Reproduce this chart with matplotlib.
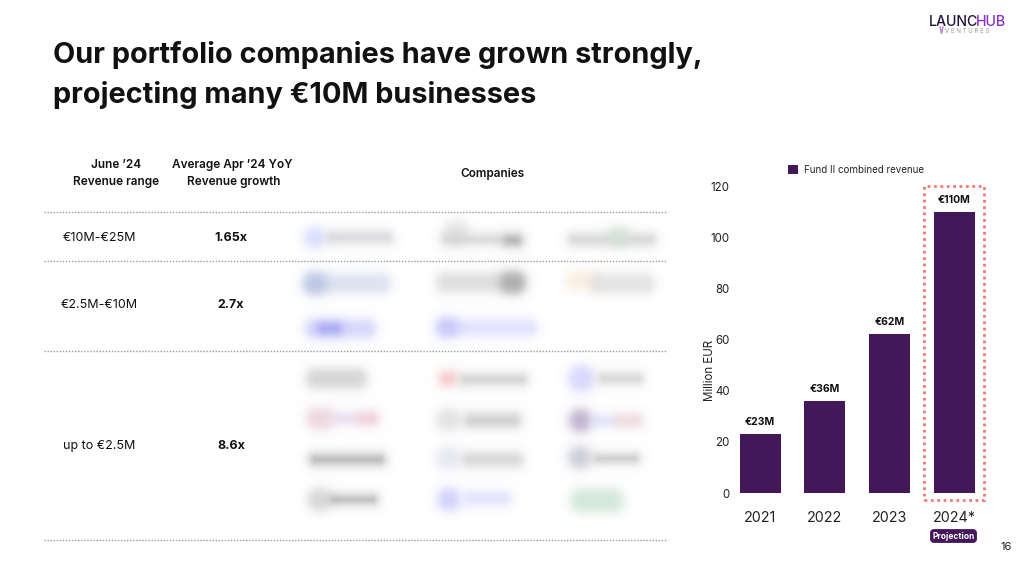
import numpy as np
import matplotlib
matplotlib.use("Agg")
import matplotlib.pyplot as plt
from matplotlib.patches import Rectangle, FancyBboxPatch

plt.rcParams['font.family'] = ['Inter', 'DejaVu Sans']

# ---------------- data ----------------
years = ["2021", "2022", "2023", "2024*"]
revenue = [23, 36, 62, 110]
value_labels = ["€23M", "€36M", "€62M", "€110M"]
yticks = [0, 20, 40, 60, 80, 100, 120]
legend_label = "Fund II combined revenue"

ranges = ["€10M-€25M", "€2.5M-€10M", "up to €2.5M"]
growth = ["1.65x", "2.7x", "8.6x"]

title_lines = ["Our portfolio companies have grown strongly,",
               "projecting many €10M businesses"]

BAR = "#43185b"
DARK = "#111111"

fig = plt.figure(figsize=(10.24, 5.63), dpi=100)
fig.patch.set_facecolor("white")

slide = fig.add_axes([0, 0, 1, 1])
slide.set_xlim(0, 1024)
slide.set_ylim(563, 0)
slide.axis("off")

# ---------- blurred company logos (decorative placeholders) ----------
H, W = 563, 1024
img = np.ones((H, W, 3))
yy, xx = np.mgrid[0:H, 0:W]


def hexrgb(h):
    h = h.lstrip('#')
    return np.array([int(h[i:i + 2], 16) / 255 for i in (0, 2, 4)])


def blob(x0, x1, y, h, color, a=0.9, soft=3.2):
    global img
    r = h / 2
    px = np.clip(xx, x0 + r, x1 - r) if x1 - x0 > h else (x0 + x1) / 2
    d = np.hypot(xx - px, yy - y)
    al = a / (1 + np.exp(np.clip((d - r) / soft, -50, 50)))
    al[al < 0.004] = 0
    al = al[..., None]
    img = img * (1 - al) + hexrgb(color) * al


logos = [
    # row 1
    (304, 324, 237, 20, "#d4dafc"), (326, 392, 237, 12, "#d2d2d6"),
    (446, 466, 232, 24, "#e2e2e2"), (442, 520, 239, 10, "#d0d0d0"), (505, 520, 240, 8, "#a9a9a9"),
    (568, 655, 239, 12, "#d0d0d0"), (608, 628, 236, 18, "#d2e2d8"),
    # row 2a
    (304, 390, 283, 20, "#d8deee"), (304, 326, 283, 20, "#b8c4e2"),
    (436, 524, 282, 20, "#dadada"), (500, 524, 282, 20, "#a8a8a8"),
    (566, 600, 280, 18, "#f8ecdc"), (590, 654, 283, 20, "#e0e0e0"),
    # row 2b
    (305, 375, 328, 18, "#d0d0fa"), (318, 340, 328, 10, "#9e9ef2"),
    (437, 536, 327, 16, "#dcdcfc"), (437, 458, 327, 18, "#c8c8fa"),
    # row 3
    (306, 366, 378, 20, "#d0d0d0"),
    (439, 456, 378, 14, "#f6c0c0"), (460, 526, 379, 10, "#c8c8c8"),
    (570, 592, 378, 26, "#d4d4fc"), (598, 642, 378, 10, "#cdcdcd"),
    (306, 334, 418, 22, "#ead4dc"), (334, 376, 418, 10, "#e2d6ee"), (358, 376, 418, 10, "#f6cfd4"),
    (436, 460, 419, 22, "#e0e0e0"), (464, 520, 420, 14, "#c8c8c8"),
    (569, 591, 420, 22, "#b9aac8"), (592, 640, 420, 10, "#d8dcf8"), (615, 640, 420, 10, "#f8dcd6"),
    (310, 384, 459, 10, "#a8a8a8"),
    (436, 460, 458, 22, "#e4e4f2"), (462, 522, 459, 14, "#d0d0d0"),
    (568, 590, 457, 22, "#c8c8d6"), (594, 638, 458, 8, "#bdbdbd"),
    (307, 330, 499, 22, "#d4d4d4"), (330, 376, 499, 8, "#a8a8a8"),
    (437, 460, 499, 22, "#cdcdfa"), (463, 510, 498, 14, "#dedefc"),
    (570, 623, 500, 24, "#cfe4d6"),
]
for lg in logos:
    blob(*lg)
img8 = np.clip(np.round(img * 255), 0, 255).astype(np.uint8)
slide.imshow(img8, extent=(0, W, H, 0), aspect="auto", zorder=0, interpolation="nearest")
slide.set_xlim(0, 1024)
slide.set_ylim(563, 0)

# ---------------- title ----------------
slide.text(53, 63, title_lines[0], fontsize=20.8, fontweight="bold", color=DARK, va="baseline")
slide.text(53, 103, title_lines[1], fontsize=20.8, fontweight="bold", color=DARK, va="baseline")

# ---------------- logo ----------------
renderer = fig.canvas.get_renderer()
t1 = slide.text(929, 26, "LAUNC", fontsize=10.2, fontweight="medium", color="#22153f", va="baseline")
bb = t1.get_window_extent(renderer)
slide.text(bb.x1 - 2.5, 26, "HUB", fontsize=10.2, fontweight="medium", color="#8b2fc9", va="baseline")
slide.text(945, 33, "V E N T U R E S", fontsize=4.4, color="#9a9a9a", va="baseline")
slide.plot([940, 941.5], [27, 33], color="#b07ad8", lw=1)
slide.plot([943, 941.5], [27, 33], color="#b07ad8", lw=1)

# ---------------- table ----------------
slide.text(116, 165, "June \u201924", fontsize=8.5, fontweight="semibold", ha="center", va="center", color=DARK)
slide.text(116, 182, "Revenue range", fontsize=8.5, fontweight="semibold", ha="center", va="center", color=DARK)
slide.text(232, 165, "Average Apr \u201924 YoY", fontsize=8.5, fontweight="semibold", ha="center", va="center", color=DARK)
slide.text(234, 182, "Revenue growth", fontsize=8.5, fontweight="semibold", ha="center", va="center", color=DARK)
slide.text(492, 174, "Companies", fontsize=8.5, fontweight="semibold", ha="center", va="center", color=DARK)

for yl in [212, 261, 351, 540]:
    slide.plot([44, 666], [yl, yl], color="#999999", lw=1.0, linestyle=(0, (1, 1.2)))

row_y = [238, 305, 446]
for ry, rg, gr in zip(row_y, ranges, growth):
    slide.text(99, ry, rg, fontsize=9, color=DARK, ha="center", va="center")
    slide.text(231, ry, gr, fontsize=9, fontweight="bold", color=DARK, ha="center", va="center")

# ---------------- bar chart ----------------
ax = fig.add_axes([727.7 / 1024, (563 - 493) / 563, 258.7 / 1024, 307 / 563])
x = np.arange(len(years))
ax.bar(x, revenue, width=0.635, color=BAR, zorder=2, label=legend_label)
ax.set_xlim(-0.5, 3.5)
ax.set_ylim(0, 120)
ax.set_yticks(yticks)
ax.set_xticks(x)
ax.set_xticklabels(years)
for s in ax.spines.values():
    s.set_visible(False)
ax.tick_params(axis="y", length=0, pad=-1.5, labelsize=8.3, labelcolor="#222222")
ax.tick_params(axis="x", length=0, pad=13, labelsize=10.3, labelcolor="#222222")
ax.set_facecolor("none")
for xi, v, lbl in zip(x, revenue, value_labels):
    ax.annotate(lbl, (xi, v), xytext=(0, 5), textcoords="offset points",
                ha="center", va="bottom", fontsize=7.5, fontweight="bold", color=DARK)
ax.set_ylabel("Million EUR", fontsize=8.3, color="#222222")
ax.yaxis.set_label_coords(-0.045, 0.40)

ax.add_patch(Rectangle((2.54, -2.7), 0.93, 122.8, fill=False, edgecolor="#f47878",
                       lw=2, linestyle=(0, (1, 1.3)), clip_on=False, zorder=3))

ax.legend(loc="center left", bbox_to_anchor=(0.215, 1.052), frameon=False,
          borderpad=0, handlelength=1.0, handleheight=1.0, handletextpad=0.6,
          fontsize=7, labelcolor="#222222")

# projection badge
slide.add_patch(FancyBboxPatch((932, 531), 43, 10, boxstyle="round,pad=1.2,rounding_size=3",
                               facecolor=BAR, edgecolor=BAR, zorder=5))
slide.text(953.5, 536.3, "Projection", fontsize=6, fontweight="bold", color="white",
           ha="center", va="center", zorder=6)

# page number
slide.text(1006, 547, "16", fontsize=8, color="#222222", ha="center", va="center")

fig.savefig("out.png", dpi=100, facecolor="white")
